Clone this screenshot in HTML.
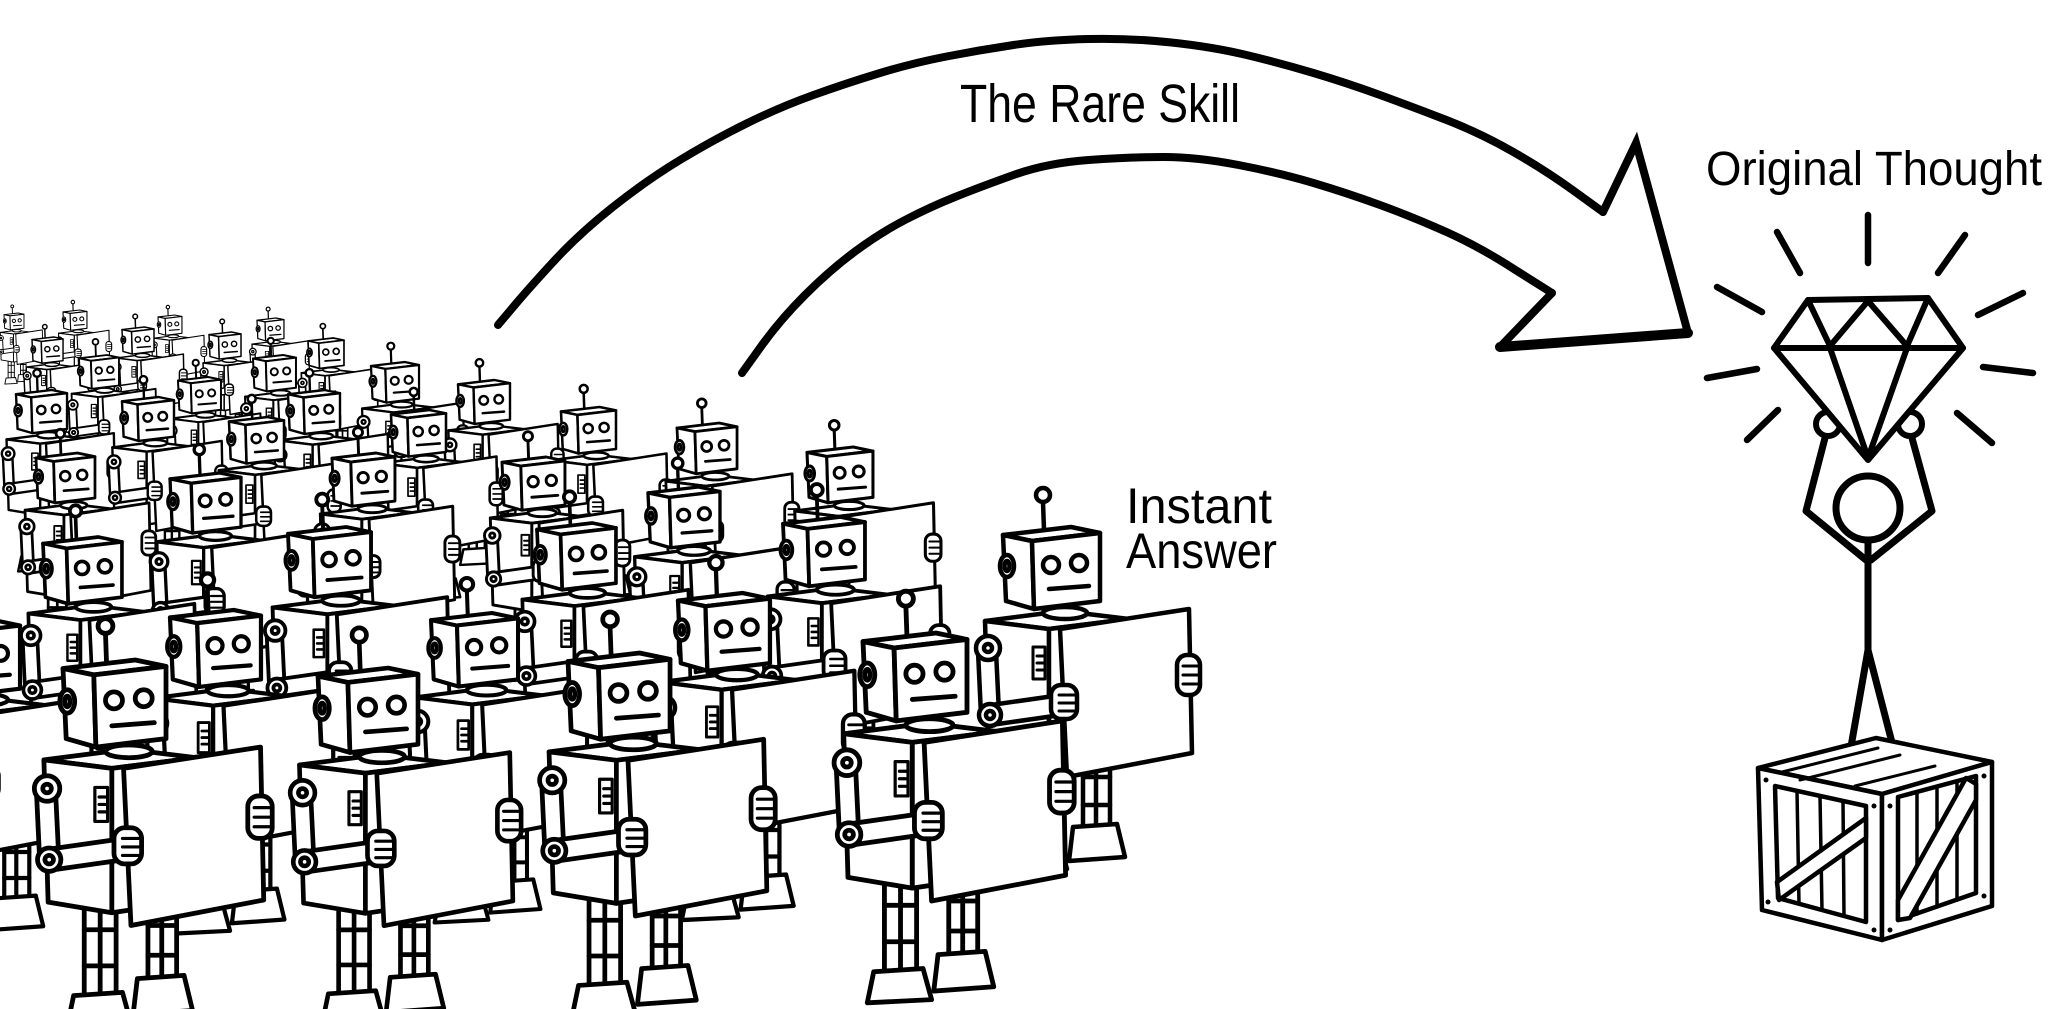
<!DOCTYPE html>
<html><head><meta charset="utf-8"><style>
html,body{margin:0;padding:0;background:#fff;}
svg{display:block;}
</style></head><body>
<svg width="2048" height="1009" viewBox="0 0 2048 1009" xmlns="http://www.w3.org/2000/svg">
<defs>
<g id="r" stroke="#000" stroke-width="4.5" stroke-linejoin="round" stroke-linecap="round" fill="#fff">
  <path d="M20,226 L50,226 L50,318 L20,318 Z"/>
  <path d="M20,254 L50,254 M20,288 L50,288 M35,226 L35,318" fill="none"/>
  <path d="M10,316 L56,313 L64,342 L4,345 Z"/>
  <path d="M80,226 L107,226 L107,302 L80,302 Z"/>
  <path d="M80,250 L107,250 M80,278 L107,278 M93,226 L93,302" fill="none"/>
  <path d="M70,300 L114,297 L122,330 L66,334 Z"/>
  <path d="M-18,94 L60,84 L126,92 L46,102 Z"/>
  <path d="M-18,94 L46,102 L46,238 L-14,228 Z"/>
  <path d="M46,102 L126,92 L126,226 L46,238 Z"/>
  <path d="M30,120 L42,120 L42,152 L30,152 Z M34,129 L42,129 M34,136 L42,136 M34,143 L42,143" stroke-width="3" fill="none"/>
  <ellipse cx="62" cy="86" rx="22" ry="6"/>
  <path d="M0,8 L68,0 L97,6 L29,14 Z"/>
  <path d="M0,8 L29,14 L31,82 L3,74 Z"/>
  <path d="M29,14 L97,6 L97,74 L31,82 Z"/>
  <ellipse cx="4" cy="39" rx="7" ry="11"/>
  <ellipse cx="4" cy="39" rx="2.5" ry="5"/>
  <circle cx="48" cy="38" r="8"/>
  <circle cx="76" cy="36" r="8"/>
  <path d="M46,62 L86,59" fill="none"/>
  <path d="M41,3 L40,-25" fill="none"/>
  <circle cx="40" cy="-32" r="7"/>
  <path d="M57,102 L186,82 L189,226 L64,250 Z"/>
  <path d="M-25,124 L-7,124 L-4,186 L-22,188 Z"/>
  <path d="M-12,178 L58,168 L58,188 L-12,198 Z"/>
  <circle cx="-15" cy="121" r="12"/>
  <circle cx="-15" cy="121" r="4"/>
  <circle cx="-13" cy="188" r="11"/>
  <circle cx="-13" cy="188" r="4"/>
  <rect x="48" y="158" width="26" height="34" rx="10"/>
  <path d="M56,168 L72,168 M56,176 L72,176 M56,184 L72,184" fill="none" stroke-width="3"/>
  <rect x="174" y="128" width="23" height="40" rx="10"/>
  <path d="M180,139 L196,139 M180,148 L196,148 M180,157 L196,157" fill="none" stroke-width="3"/>
</g>
</defs>

<!-- Robot crowd, back to front -->
<use href="#r" transform="translate(4 313) scale(0.206)"/>
<use href="#r" transform="translate(63 310) scale(0.247)"/>
<use href="#r" transform="translate(158 315) scale(0.247)"/>
<use href="#r" transform="translate(257 318) scale(0.278)"/>
<use href="#r" transform="translate(122 327) scale(0.33)"/>
<use href="#r" transform="translate(209 332) scale(0.33)"/>
<use href="#r" transform="translate(32 337) scale(0.32)"/>
<use href="#r" transform="translate(308 338) scale(0.371)"/>
<use href="#r" transform="translate(79 355) scale(0.412)"/>
<use href="#r" transform="translate(253 355) scale(0.443)"/>
<use href="#r" transform="translate(371 362) scale(0.495)"/>
<use href="#r" transform="translate(178 377) scale(0.443)"/>
<use href="#r" transform="translate(458 380) scale(0.536)"/>
<use href="#r" transform="translate(16 390) scale(0.526)"/>
<use href="#r" transform="translate(288 390) scale(0.536)"/>
<use href="#r" transform="translate(122 397) scale(0.536)"/>
<use href="#r" transform="translate(561 407) scale(0.567)"/>
<use href="#r" transform="translate(391 410) scale(0.567)"/>
<use href="#r" transform="translate(229 417) scale(0.567)"/>
<use href="#r" transform="translate(677 423) scale(0.619)"/>
<use href="#r" transform="translate(36 453) scale(0.608)"/>
<use href="#r" transform="translate(807 447) scale(0.68)"/>
<use href="#r" transform="translate(332 453) scale(0.649)"/>
<use href="#r" transform="translate(502 457) scale(0.649)"/>
<use href="#r" transform="translate(170 473) scale(0.732)"/>
<use href="#r" transform="translate(648 487) scale(0.742)"/>
<use href="#r" transform="translate(783 517) scale(0.845)"/>
<use href="#r" transform="translate(537 523) scale(0.814)"/>
<use href="#r" transform="translate(288 527) scale(0.856)"/>
<use href="#r" transform="translate(43 537) scale(0.814)"/>
<use href="#r" transform="translate(1003 527) scale(1)"/>
<use href="#r" transform="translate(678 593) scale(0.948)"/>
<use href="#r" transform="translate(431 613) scale(0.897)"/>
<use href="#r" transform="translate(170 610) scale(0.938)"/>
<use href="#r" transform="translate(-70 620) scale(0.928)"/>
<use href="#r" transform="translate(863 633) scale(1.072)"/>
<use href="#r" transform="translate(568 653) scale(1.052)"/>
<use href="#r" transform="translate(63 660) scale(1.062)"/>
<use href="#r" transform="translate(318 668) scale(1.031)"/>

<!-- Arc arrow -->
<g fill="none" stroke="#000" stroke-linecap="round" stroke-linejoin="round">
  <path stroke-width="8" d="M498,325 L514,306 Q530,287 555,260 Q580,233 613.5,206.5 Q647,180 680,160 Q713,140 746.5,123.5 Q780,107 813.5,95 Q847,83 880,73 Q913,63 946.5,56.5 Q980,50 1013.5,45 Q1047,40 1088.5,39 Q1130,38 1171.5,42.5 Q1213,47 1246.5,55 Q1280,63 1313.5,73 Q1347,83 1380,95 Q1413,107 1446.5,120 Q1480,133 1512.5,151.5 Q1545,170 1574,191 L1603,212"/>
  <path stroke-width="8" d="M742,373 L761,346.5 Q780,320 805,295 Q830,270 855,251.5 Q880,233 905,220 Q930,207 955,197 Q980,187 1013.5,175 Q1047,163 1088.5,160 Q1130,157 1163.5,157 Q1197,157 1238.5,165 Q1280,173 1313.5,183 Q1347,193 1380,205 Q1413,217 1446.5,232 Q1480,247 1515.5,270 L1552,293"/>
  <path stroke-width="8" stroke-linejoin="miter" d="M1603,212 L1636,143 L1688,333"/>
  <path stroke-width="10" d="M1688,333 L1500,347"/>
  <path stroke-width="8" d="M1500,347 L1552,293"/>
</g>

<!-- Labels -->
<g font-family="'Liberation Sans', 'DejaVu Sans', sans-serif" fill="#000">
  <text x="960" y="122" font-size="54" textLength="280" lengthAdjust="spacingAndGlyphs">The Rare Skill</text>
  <text x="1706" y="185" font-size="48" textLength="336" lengthAdjust="spacingAndGlyphs">Original Thought</text>
  <text x="1126" y="523" font-size="50" textLength="146" lengthAdjust="spacingAndGlyphs">Instant</text>
  <text x="1126" y="568" font-size="50" textLength="151" lengthAdjust="spacingAndGlyphs">Answer</text>
</g>

<!-- Rays -->
<g stroke="#000" stroke-width="6.5" stroke-linecap="round" fill="none">
  <path d="M1868,215 L1868,263"/>
  <path d="M1777,232 L1800,273"/>
  <path d="M1965,235 L1938,273"/>
  <path d="M1717,287 L1762,312"/>
  <path d="M2023,293 L1978,315"/>
  <path d="M1707,378 L1757,369"/>
  <path d="M1983,367 L2033,373"/>
  <path d="M1778,410 L1747,440"/>
  <path d="M1957,413 L1992,443"/>
</g>

<!-- Stick figure -->
<g stroke="#000" stroke-width="7" stroke-linecap="round" stroke-linejoin="round" fill="none">
  <path d="M1825,438 L1806,511 L1866,560"/>
  <path d="M1912,438 L1932,511 L1871,560"/>
  <path d="M1868,540 L1868,650"/>
  <path d="M1868,650 L1849,758"/>
  <path d="M1868,650 L1896,758"/>
  <path d="M1830,762 L1850,762" stroke-width="11"/>
  <path d="M1895,762 L1922,765" stroke-width="11"/>
  <circle cx="1868" cy="508" r="32" fill="#fff"/>
  <circle cx="1828" cy="424" r="12" fill="#fff" stroke-width="6"/>
  <circle cx="1910" cy="424" r="12" fill="#fff" stroke-width="6"/>
</g>

<!-- Diamond -->
<g stroke="#000" stroke-width="6" stroke-linejoin="round" stroke-linecap="round" fill="none">
  <path d="M1808,300 L1928,298 L1963,348 L1868,460 L1774,348 Z" fill="#fff"/>
  <path d="M1774,348 L1963,348"/>
  <path d="M1808,300 L1830,346 L1868,301 L1907,346 L1928,298"/>
  <path d="M1830,348 L1868,458 L1907,348"/>
</g>

<!-- Crate -->
<g stroke="#000" stroke-width="4.5" stroke-linejoin="round" stroke-linecap="round" fill="#fff">
  <path d="M1758,768 L1876,738 L1992,762 L1882,794 Z"/>
  <path d="M1758,768 L1882,794 L1882,940 L1762,910 Z"/>
  <path d="M1882,794 L1992,762 L1992,906 L1882,940 Z"/>
  <path d="M1775,786 L1866,806 L1866,922 L1778,898 Z"/>
  <path d="M1797,791 L1799,904 M1820,796 L1822,910 M1843,801 L1844,916" fill="none" stroke-width="3.5"/>
  <path d="M1777,882 L1866,818 L1866,838 L1779,900 Z"/>
  <path d="M1898,797 L1976,776 L1976,893 L1898,920 Z"/>
  <path d="M1917,792 L1917,914 M1937,787 L1937,907 M1957,781 L1957,900" fill="none" stroke-width="3.5"/>
  <path d="M1898,900 L1966,778 L1976,784 L1976,800 L1910,918 L1898,920 Z"/>
  <path d="M1782,772 L1878,748 M1800,780 L1900,755" fill="none" stroke-width="3"/>
  <path d="M1855,786 L1935,766" fill="none" stroke-width="3"/>
</g>
<g fill="#000">
  <circle cx="1766" cy="780" r="2.5"/><circle cx="1874" cy="806" r="2.5"/>
  <circle cx="1768" cy="902" r="2.5"/><circle cx="1874" cy="930" r="2.5"/>
  <circle cx="1890" cy="806" r="2.5"/><circle cx="1984" cy="776" r="2.5"/>
  <circle cx="1984" cy="896" r="2.5"/><circle cx="1890" cy="930" r="2.5"/>
</g>
</svg>
</body></html>
